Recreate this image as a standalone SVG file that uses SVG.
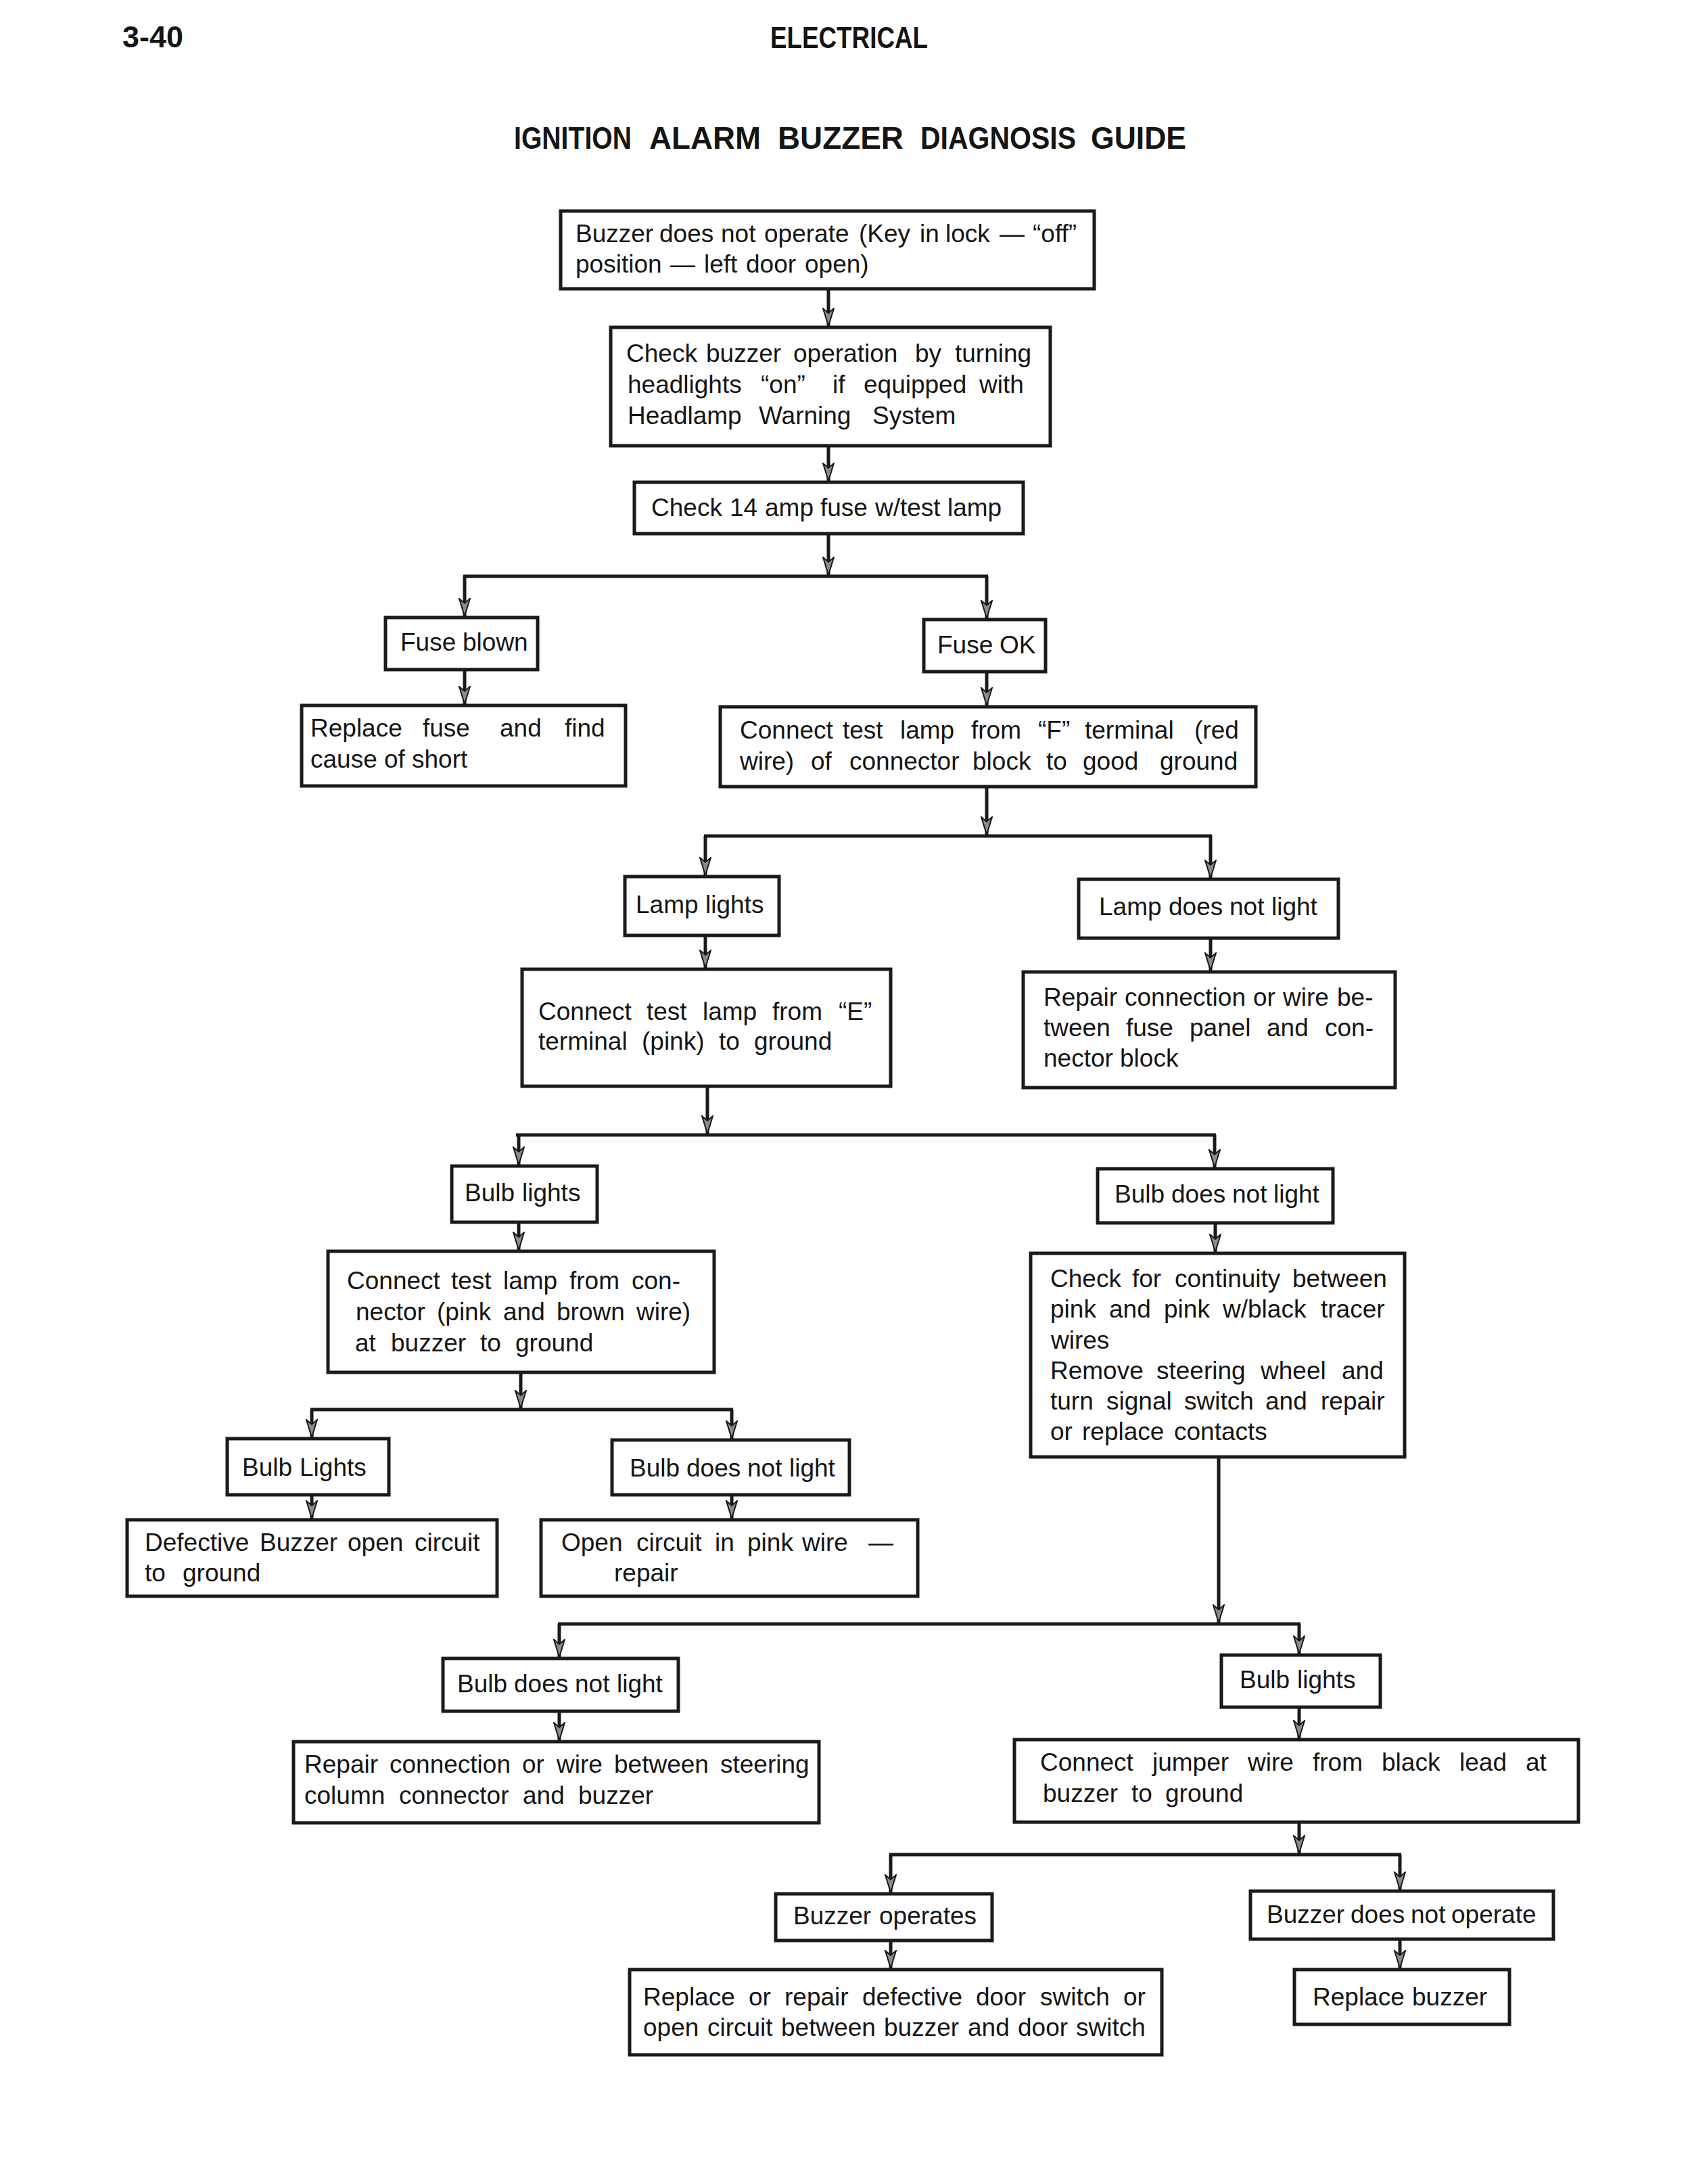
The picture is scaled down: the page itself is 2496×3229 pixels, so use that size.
<svg xmlns="http://www.w3.org/2000/svg" width="2496" height="3229" viewBox="0 0 2496 3229">
<style>
.bg{fill:#ffffff}
.box{fill:#ffffff;stroke:#1a1a1a;stroke-width:5}
.c{stroke:#1a1a1a;stroke-width:5;fill:none}
.a{stroke:#1a1a1a;stroke-width:5;fill:none;marker-end:url(#arr)}
.t{font-family:"Liberation Sans",Arial,sans-serif;font-size:37px;fill:#151515}
.h{font-family:"Liberation Sans",Arial,sans-serif;font-size:44px;font-weight:bold;fill:#151515}
.ti{font-family:"Liberation Sans",Arial,sans-serif;font-size:46px;font-weight:bold;fill:#151515}
</style>
<defs>
<marker id="arr" markerUnits="userSpaceOnUse" markerWidth="30" markerHeight="20" refX="27" refY="9" orient="auto" viewBox="0 0 30 20">
<path d="M1,1 L27,9 L1,17 L8,9 Z" fill="#8c8c8c" stroke="#1a1a1a" stroke-width="2"/>
</marker>
</defs>
<rect class="bg" x="0" y="0" width="2496" height="3229"/>

<g id="header">
<text class="h" x="181" y="70" textLength="90" lengthAdjust="spacingAndGlyphs">3-40</text>
<text class="h" x="1139" y="71" textLength="233" lengthAdjust="spacingAndGlyphs">ELECTRICAL</text>
<text class="ti" x="760" y="220" textLength="174" lengthAdjust="spacingAndGlyphs">IGNITION</text>
<text class="ti" x="960" y="220" textLength="165" lengthAdjust="spacingAndGlyphs">ALARM</text>
<text class="ti" x="1150" y="220" textLength="186" lengthAdjust="spacingAndGlyphs">BUZZER</text>
<text class="ti" x="1361" y="220" textLength="230" lengthAdjust="spacingAndGlyphs">DIAGNOSIS</text>
<text class="ti" x="1613" y="220" textLength="141" lengthAdjust="spacingAndGlyphs">GUIDE</text>
</g>

<g id="connectors">
<line class="a" x1="1225" y1="428" x2="1225" y2="482"/>
<line class="a" x1="1225" y1="659" x2="1225" y2="711"/>
<line class="a" x1="1225" y1="789" x2="1225" y2="850"/>
<line class="c" x1="685" y1="852" x2="1461" y2="852"/>
<line class="a" x1="687" y1="852" x2="687" y2="911"/>
<line class="a" x1="1459" y1="852" x2="1459" y2="914"/>
<line class="a" x1="687" y1="990" x2="687" y2="1041"/>
<line class="a" x1="1459" y1="993" x2="1459" y2="1043"/>
<line class="a" x1="1459" y1="1163" x2="1459" y2="1234"/>
<line class="c" x1="1041" y1="1236" x2="1792" y2="1236"/>
<line class="a" x1="1043" y1="1236" x2="1043" y2="1294"/>
<line class="a" x1="1790" y1="1236" x2="1790" y2="1298"/>
<line class="a" x1="1043" y1="1383" x2="1043" y2="1431"/>
<line class="a" x1="1790" y1="1387" x2="1790" y2="1435"/>
<line class="a" x1="1046" y1="1606" x2="1046" y2="1676"/>
<line class="c" x1="763" y1="1678" x2="1798" y2="1678"/>
<line class="a" x1="767" y1="1678" x2="767" y2="1722"/>
<line class="a" x1="1796" y1="1678" x2="1796" y2="1726"/>
<line class="a" x1="767" y1="1807" x2="767" y2="1848"/>
<line class="a" x1="1797" y1="1808" x2="1797" y2="1851"/>
<line class="a" x1="770" y1="2029" x2="770" y2="2082"/>
<line class="c" x1="459" y1="2084" x2="1084" y2="2084"/>
<line class="a" x1="461" y1="2084" x2="461" y2="2125"/>
<line class="a" x1="1082" y1="2084" x2="1082" y2="2127"/>
<line class="a" x1="461" y1="2210" x2="461" y2="2245"/>
<line class="a" x1="1082" y1="2210" x2="1082" y2="2245"/>
<line class="a" x1="1802" y1="2154" x2="1802" y2="2399"/>
<line class="c" x1="825" y1="2401" x2="1923" y2="2401"/>
<line class="a" x1="827" y1="2401" x2="827" y2="2450"/>
<line class="a" x1="1921" y1="2401" x2="1921" y2="2445"/>
<line class="a" x1="827" y1="2530" x2="827" y2="2573"/>
<line class="a" x1="1921" y1="2524" x2="1921" y2="2570"/>
<line class="a" x1="1921" y1="2694" x2="1921" y2="2740"/>
<line class="c" x1="1315" y1="2742" x2="2072" y2="2742"/>
<line class="a" x1="1317" y1="2742" x2="1317" y2="2798"/>
<line class="a" x1="2070" y1="2742" x2="2070" y2="2794"/>
<line class="a" x1="1317" y1="2869" x2="1317" y2="2910"/>
<line class="a" x1="2070" y1="2867" x2="2070" y2="2910"/>
</g>

<g id="n1">
<rect class="box" x="829" y="312" width="789" height="115"/>
<text class="t" y="358"><tspan x="851">Buzzer</tspan> <tspan x="975">does</tspan> <tspan x="1066">not</tspan> <tspan x="1130">operate</tspan> <tspan x="1270">(Key</tspan> <tspan x="1360">in</tspan> <tspan x="1398">lock</tspan> <tspan x="1478">—</tspan> <tspan x="1527">“off”</tspan></text>
<text class="t" y="403"><tspan x="851">position</tspan> <tspan x="991">—</tspan> <tspan x="1041">left</tspan> <tspan x="1103">door</tspan> <tspan x="1190">open)</tspan></text>
</g>

<g id="n2">
<rect class="box" x="903" y="484" width="650" height="175"/>
<text class="t" y="535"><tspan x="926">Check</tspan> <tspan x="1044">buzzer</tspan> <tspan x="1173">operation</tspan> <tspan x="1353">by</tspan> <tspan x="1412">turning</tspan></text>
<text class="t" y="581"><tspan x="928">headlights</tspan> <tspan x="1125">“on”</tspan> <tspan x="1231">if</tspan> <tspan x="1277">equipped</tspan> <tspan x="1448">with</tspan></text>
<text class="t" y="627"><tspan x="928">Headlamp</tspan> <tspan x="1122">Warning</tspan> <tspan x="1290">System</tspan></text>
</g>

<g id="n3">
<rect class="box" x="938" y="713" width="575" height="76"/>
<text class="t" y="763"><tspan x="963">Check</tspan> <tspan x="1079">14</tspan> <tspan x="1131">amp</tspan> <tspan x="1213">fuse</tspan> <tspan x="1294">w/test</tspan> <tspan x="1401">lamp</tspan></text>
</g>

<g id="n4">
<rect class="box" x="570" y="913" width="225" height="77"/>
<text class="t" y="962"><tspan x="592">Fuse</tspan> <tspan x="684">blown</tspan></text>
</g>

<g id="n5">
<rect class="box" x="1366" y="916" width="180" height="77"/>
<text class="t" y="966"><tspan x="1386">Fuse</tspan> <tspan x="1478">OK</tspan></text>
</g>

<g id="n6">
<rect class="box" x="446" y="1043" width="479" height="119"/>
<text class="t" y="1089"><tspan x="459">Replace</tspan> <tspan x="625">fuse</tspan> <tspan x="739">and</tspan> <tspan x="835">find</tspan></text>
<text class="t" y="1135"><tspan x="459">cause</tspan> <tspan x="568">of</tspan> <tspan x="609">short</tspan></text>
</g>

<g id="n7">
<rect class="box" x="1065" y="1045" width="792" height="118"/>
<text class="t" y="1092"><tspan x="1094">Connect</tspan> <tspan x="1246">test</tspan> <tspan x="1331">lamp</tspan> <tspan x="1436">from</tspan> <tspan x="1535">“F”</tspan> <tspan x="1604">terminal</tspan> <tspan x="1766">(red</tspan></text>
<text class="t" y="1138"><tspan x="1094">wire)</tspan> <tspan x="1199">of</tspan> <tspan x="1256">connector</tspan> <tspan x="1438">block</tspan> <tspan x="1547">to</tspan> <tspan x="1601">good</tspan> <tspan x="1715">ground</tspan></text>
</g>

<g id="n8">
<rect class="box" x="924" y="1296" width="228" height="87"/>
<text class="t" y="1350"><tspan x="940">Lamp</tspan> <tspan x="1043">lights</tspan></text>
</g>

<g id="n9">
<rect class="box" x="1595" y="1300" width="384" height="87"/>
<text class="t" y="1353"><tspan x="1625">Lamp</tspan> <tspan x="1728">does</tspan> <tspan x="1818">not</tspan> <tspan x="1880">light</tspan></text>
</g>

<g id="n10">
<rect class="box" x="772" y="1433" width="545" height="173"/>
<text class="t" y="1508"><tspan x="796">Connect</tspan> <tspan x="956">test</tspan> <tspan x="1039">lamp</tspan> <tspan x="1142">from</tspan> <tspan x="1240">“E”</tspan></text>
<text class="t" y="1552"><tspan x="796">terminal</tspan> <tspan x="949">(pink)</tspan> <tspan x="1063">to</tspan> <tspan x="1115">ground</tspan></text>
</g>

<g id="n11">
<rect class="box" x="1513" y="1437" width="550" height="171"/>
<text class="t" y="1487"><tspan x="1543">Repair</tspan> <tspan x="1663">connection</tspan> <tspan x="1853">or</tspan> <tspan x="1897">wire</tspan> <tspan x="1977">be-</tspan></text>
<text class="t" y="1532"><tspan x="1543">tween</tspan> <tspan x="1665">fuse</tspan> <tspan x="1759">panel</tspan> <tspan x="1873">and</tspan> <tspan x="1959">con-</tspan></text>
<text class="t" y="1577"><tspan x="1543">nector</tspan> <tspan x="1656">block</tspan></text>
</g>

<g id="n12">
<rect class="box" x="668" y="1724" width="215" height="83"/>
<text class="t" y="1776"><tspan x="687">Bulb</tspan> <tspan x="772">lights</tspan></text>
</g>

<g id="n13">
<rect class="box" x="1623" y="1728" width="348" height="80"/>
<text class="t" y="1778"><tspan x="1648">Bulb</tspan> <tspan x="1732">does</tspan> <tspan x="1822">not</tspan> <tspan x="1883">light</tspan></text>
</g>

<g id="n14">
<rect class="box" x="485" y="1850" width="571" height="179"/>
<text class="t" y="1906"><tspan x="513">Connect</tspan> <tspan x="667">test</tspan> <tspan x="744">lamp</tspan> <tspan x="842">from</tspan> <tspan x="934">con-</tspan></text>
<text class="t" y="1952"><tspan x="526">nector</tspan> <tspan x="646">(pink</tspan> <tspan x="744">and</tspan> <tspan x="823">brown</tspan> <tspan x="941">wire)</tspan></text>
<text class="t" y="1998"><tspan x="525">at</tspan> <tspan x="578">buzzer</tspan> <tspan x="710">to</tspan> <tspan x="762">ground</tspan></text>
</g>

<g id="n15">
<rect class="box" x="1524" y="1853" width="553" height="301"/>
<text class="t" y="1903"><tspan x="1553">Check</tspan> <tspan x="1674">for</tspan> <tspan x="1737">continuity</tspan> <tspan x="1911">between</tspan></text>
<text class="t" y="1948"><tspan x="1553">pink</tspan> <tspan x="1640">and</tspan> <tspan x="1721">pink</tspan> <tspan x="1808">w/black</tspan> <tspan x="1953">tracer</tspan></text>
<text class="t" y="1994"><tspan x="1554">wires</tspan></text>
<text class="t" y="2039"><tspan x="1553">Remove</tspan> <tspan x="1710">steering</tspan> <tspan x="1864">wheel</tspan> <tspan x="1984">and</tspan></text>
<text class="t" y="2084"><tspan x="1553">turn</tspan> <tspan x="1636">signal</tspan> <tspan x="1751">switch</tspan> <tspan x="1871">and</tspan> <tspan x="1953">repair</tspan></text>
<text class="t" y="2129"><tspan x="1553">or</tspan> <tspan x="1600">replace</tspan> <tspan x="1736">contacts</tspan></text>
</g>

<g id="n16">
<rect class="box" x="336" y="2127" width="239" height="83"/>
<text class="t" y="2182"><tspan x="358">Bulb</tspan> <tspan x="443">Lights</tspan></text>
</g>

<g id="n17">
<rect class="box" x="905" y="2129" width="351" height="81"/>
<text class="t" y="2183"><tspan x="931">Bulb</tspan> <tspan x="1015">does</tspan> <tspan x="1105">not</tspan> <tspan x="1167">light</tspan></text>
</g>

<g id="n18">
<rect class="box" x="188" y="2247" width="547" height="113"/>
<text class="t" y="2293"><tspan x="214">Defective</tspan> <tspan x="384">Buzzer</tspan> <tspan x="514">open</tspan> <tspan x="613">circuit</tspan></text>
<text class="t" y="2338"><tspan x="214">to</tspan> <tspan x="270">ground</tspan></text>
</g>

<g id="n19">
<rect class="box" x="800" y="2247" width="557" height="113"/>
<text class="t" y="2293"><tspan x="830">Open</tspan> <tspan x="941">circuit</tspan> <tspan x="1057">in</tspan> <tspan x="1105">pink</tspan> <tspan x="1186">wire</tspan> <tspan x="1284">—</tspan></text>
<text class="t" y="2338"><tspan x="908">repair</tspan></text>
</g>

<g id="n20">
<rect class="box" x="655" y="2452" width="348" height="78"/>
<text class="t" y="2502"><tspan x="676">Bulb</tspan> <tspan x="760">does</tspan> <tspan x="850">not</tspan> <tspan x="912">light</tspan></text>
</g>

<g id="n21">
<rect class="box" x="1806" y="2447" width="235" height="77"/>
<text class="t" y="2496"><tspan x="1833">Bulb</tspan> <tspan x="1918">lights</tspan></text>
</g>

<g id="n22">
<rect class="box" x="434" y="2575" width="777" height="120"/>
<text class="t" y="2621"><tspan x="450">Repair</tspan> <tspan x="576">connection</tspan> <tspan x="772">or</tspan> <tspan x="823">wire</tspan> <tspan x="908">between</tspan> <tspan x="1065">steering</tspan></text>
<text class="t" y="2667"><tspan x="450">column</tspan> <tspan x="590">connector</tspan> <tspan x="773">and</tspan> <tspan x="855">buzzer</tspan></text>
</g>

<g id="n23">
<rect class="box" x="1500" y="2572" width="834" height="122"/>
<text class="t" y="2618"><tspan x="1538">Connect</tspan> <tspan x="1704">jumper</tspan> <tspan x="1845">wire</tspan> <tspan x="1941">from</tspan> <tspan x="2043">black</tspan> <tspan x="2158">lead</tspan> <tspan x="2256">at</tspan></text>
<text class="t" y="2664"><tspan x="1542">buzzer</tspan> <tspan x="1673">to</tspan> <tspan x="1723">ground</tspan></text>
</g>

<g id="n24">
<rect class="box" x="1147" y="2800" width="320" height="69"/>
<text class="t" y="2845"><tspan x="1173">Buzzer</tspan> <tspan x="1300">operates</tspan></text>
</g>

<g id="n25">
<rect class="box" x="1849" y="2796" width="448" height="71"/>
<text class="t" y="2843"><tspan x="1873">Buzzer</tspan> <tspan x="1997">does</tspan> <tspan x="2086">not</tspan> <tspan x="2146">operate</tspan></text>
</g>

<g id="n26">
<rect class="box" x="931" y="2912" width="787" height="126"/>
<text class="t" y="2965"><tspan x="951">Replace</tspan> <tspan x="1107">or</tspan> <tspan x="1160">repair</tspan> <tspan x="1275">defective</tspan> <tspan x="1443">door</tspan> <tspan x="1538">switch</tspan> <tspan x="1661">or</tspan></text>
<text class="t" y="3010"><tspan x="951">open</tspan> <tspan x="1046">circuit</tspan> <tspan x="1155">between</tspan> <tspan x="1307">buzzer</tspan> <tspan x="1431">and</tspan> <tspan x="1505">door</tspan> <tspan x="1591">switch</tspan></text>
</g>

<g id="n27">
<rect class="box" x="1914" y="2912" width="318" height="81"/>
<text class="t" y="2965"><tspan x="1941">Replace</tspan> <tspan x="2088">buzzer</tspan></text>
</g>
</svg>
